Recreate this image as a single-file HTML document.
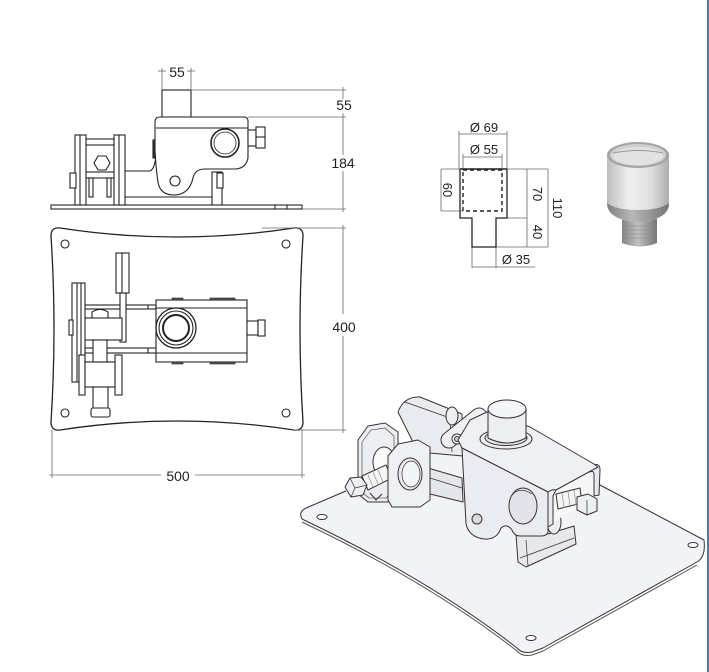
<!DOCTYPE html>
<html><head><meta charset="utf-8">
<style>
html,body{margin:0;padding:0;background:#fff;}
svg{display:block;}
text{font-family:"Liberation Sans",Arial,sans-serif;fill:#222;}
</style></head>
<body>
<svg width="709" height="672" viewBox="0 0 709 672" xmlns="http://www.w3.org/2000/svg">
<defs>
<linearGradient id="cyl" x1="0" x2="1" y1="0" y2="0">
<stop offset="0" stop-color="#bdbdbd"/><stop offset="0.35" stop-color="#efefef"/><stop offset="0.7" stop-color="#e0e0e0"/><stop offset="1" stop-color="#acacac"/>
</linearGradient>
<linearGradient id="cyl2" x1="0" x2="1" y1="0" y2="0">
<stop offset="0" stop-color="#808080"/><stop offset="0.4" stop-color="#b8b8b8"/><stop offset="1" stop-color="#747474"/>
</linearGradient>
<linearGradient id="stem" x1="0" x2="1" y1="0" y2="0">
<stop offset="0" stop-color="#858585"/><stop offset="0.45" stop-color="#c0c0c0"/><stop offset="1" stop-color="#757575"/>
</linearGradient>
</defs>
<rect width="709" height="672" fill="#fff"/>
<rect x="707" y="0" width="2" height="672" fill="#5078b0"/>

<!-- ===== SIDE VIEW ===== -->
<g stroke="#222" stroke-width="1.1" fill="#fff">
  <rect x="51" y="205" width="251" height="4"/>
  <line x1="275" y1="205" x2="275" y2="209"/><line x1="287" y1="205" x2="287" y2="209"/>
  <rect x="75" y="135" width="11" height="70"/>
  <line x1="80" y1="135" x2="80" y2="205"/>
  <rect x="114" y="135" width="11" height="70"/>
  <line x1="119" y1="135" x2="119" y2="205"/>
  <rect x="86" y="139" width="28" height="6"/>
  <rect x="86" y="172" width="28" height="6"/>
  <rect x="89" y="178" width="4" height="19"/><rect x="107" y="178" width="4" height="19"/>
  <polygon points="94,163 98,156 106,156 110,163 106,170 98,170"/>
  <rect x="70" y="173" width="6" height="15"/>
  <line x1="125" y1="197" x2="213" y2="197"/>
  <path d="M125,171 L150,171 Q156,168 156,150" fill="none"/>
  <rect x="153" y="140" width="5" height="18" fill="#333"/>
  <rect x="212" y="172" width="10" height="33"/>
  <rect x="217" y="173" width="6" height="15"/>
  <rect x="162" y="90" width="29" height="27"/>
  <path d="M155,122 Q155,117 160,117 L244,117 Q248,117 248,121 L248,158 Q246,168 236,169 L205,169 Q195,169 193,178 Q189,195 174,195 Q160,195 158,182 Q156,170 155,150 Z"/>
  <line x1="156" y1="128" x2="248" y2="128"/>
  <circle cx="225" cy="143" r="14" stroke-width="1.6"/>
  <circle cx="225" cy="143" r="11" stroke-width="0.8"/>
  <circle cx="175" cy="181" r="5"/>
  <rect x="248" y="130" width="8" height="16"/>
  <rect x="256" y="127" width="9" height="21"/>
  <line x1="256" y1="137" x2="265" y2="137"/>
</g>
<g stroke="#666" stroke-width="0.8" fill="none">
  <line x1="162" y1="68" x2="162" y2="90"/><line x1="191" y1="68" x2="191" y2="90"/>
  <line x1="158" y1="71" x2="166" y2="71"/><line x1="187" y1="71" x2="195" y2="71"/>
  <line x1="191" y1="90" x2="346" y2="90"/>
  <line x1="248" y1="117" x2="346" y2="117"/>
  <line x1="302" y1="209" x2="346" y2="209"/>
  <line x1="343" y1="87" x2="343" y2="99"/>
  <line x1="343" y1="113" x2="343" y2="155"/>
  <line x1="343" y1="171" x2="343" y2="212"/>
</g>
<text x="177" y="77" font-size="14" text-anchor="middle">55</text>
<text x="344" y="110" font-size="14" text-anchor="middle">55</text>
<text x="343" y="168" font-size="14" text-anchor="middle">184</text>

<!-- ===== TOP VIEW ===== -->
<path d="M60,228 Q177,246 294,228 Q303,227 303,236 Q297,329 303,422 Q303,431 294,430 Q177,412 60,430 Q51,431 51,422 Q57,329 51,236 Q51,227 60,228 Z" fill="#fff" stroke="#222" stroke-width="1.3"/>
<g fill="#fff" stroke="#222" stroke-width="1.1">
  <circle cx="65" cy="244" r="4"/><circle cx="286" cy="244" r="4"/>
  <circle cx="65" cy="413" r="4"/><circle cx="286" cy="413" r="4"/>
  <rect x="85" y="305" width="71" height="4"/>
  <rect x="85" y="348" width="71" height="5"/>
  <line x1="148" y1="305" x2="148" y2="309"/><line x1="148" y1="348" x2="148" y2="353"/>
  <rect x="156" y="300" width="91" height="62"/>
  <line x1="156" y1="308" x2="247" y2="308"/>
  <line x1="156" y1="353" x2="247" y2="353"/>
  <rect x="172" y="298" width="11" height="2" fill="#555" stroke-width="0.6"/>
  <rect x="210" y="298" width="25" height="2" fill="#555" stroke-width="0.6"/>
  <rect x="172" y="362" width="11" height="2" fill="#555" stroke-width="0.6"/>
  <rect x="210" y="362" width="25" height="2" fill="#555" stroke-width="0.6"/>
  <circle cx="176" cy="328" r="20" stroke-width="1.3"/>
  <circle cx="176" cy="328" r="17"/>
  <circle cx="176" cy="328" r="13" stroke-width="2"/>
  <rect x="247" y="321" width="11" height="14"/>
  <rect x="258" y="320" width="7" height="16"/>
  <rect x="116" y="253" width="13" height="40"/>
  <line x1="122" y1="253" x2="122" y2="293"/>
  <rect x="120" y="293" width="6" height="49"/>
  <rect x="82" y="318" width="40" height="22"/>
  <path d="M92,318 L92,312 Q100,307 108,312 L108,318 Z"/>
  <rect x="72" y="283" width="13" height="99"/>
  <line x1="77" y1="283" x2="77" y2="382"/><line x1="81" y1="283" x2="81" y2="382"/>
  <rect x="69" y="320" width="4" height="15"/>
  <rect x="93" y="340" width="14" height="22"/>
  <rect x="79" y="355" width="6" height="40"/>
  <rect x="115" y="355" width="7" height="40"/>
  <rect x="85" y="362" width="30" height="25"/>
  <rect x="93" y="387" width="15" height="22"/>
  <rect x="91" y="408" width="19" height="9" rx="2"/>
</g>
<g stroke="#666" stroke-width="0.8" fill="none">
  <line x1="262" y1="228" x2="346" y2="228"/>
  <line x1="292" y1="430" x2="346" y2="430"/>
  <line x1="343" y1="225" x2="343" y2="314"/>
  <line x1="343" y1="336" x2="343" y2="433"/>
  <line x1="52" y1="430" x2="52" y2="478"/>
  <line x1="302" y1="430" x2="302" y2="478"/>
  <line x1="49" y1="475" x2="161" y2="475"/>
  <line x1="195" y1="475" x2="305" y2="475"/>
</g>
<text x="344" y="332" font-size="14" text-anchor="middle">400</text>
<text x="178" y="481" font-size="14" text-anchor="middle">500</text>

<!-- ===== PIN DETAIL ===== -->
<g stroke="#666" stroke-width="0.8" fill="none">
  <line x1="459" y1="131" x2="459" y2="169"/><line x1="507" y1="131" x2="507" y2="169"/>
  <line x1="459" y1="134" x2="507" y2="134"/>
  <line x1="463" y1="154" x2="463" y2="169"/><line x1="502" y1="154" x2="502" y2="169"/>
  <line x1="463" y1="157" x2="502" y2="157"/>
  <line x1="441" y1="169" x2="460" y2="169"/><line x1="441" y1="211" x2="463" y2="211"/>
  <line x1="441" y1="169" x2="441" y2="211"/>
  <line x1="507" y1="169" x2="548" y2="169"/>
  <line x1="496" y1="218" x2="527" y2="218"/>
  <line x1="527" y1="169" x2="527" y2="247"/>
  <line x1="496" y1="247" x2="548" y2="247"/>
  <line x1="548" y1="169" x2="548" y2="247"/>
  <line x1="472" y1="247" x2="472" y2="268"/><line x1="496" y1="247" x2="496" y2="268"/>
  <line x1="472" y1="267" x2="535" y2="267"/>
</g>
<g stroke="#222" fill="none">
  <path d="M460,169 L507,169" stroke-width="1.6"/>
  <path d="M460,169 L460,218 L472,218 L472,247 L496,247 L496,218 L507,218 L507,169" stroke-width="1.3"/>
  <rect x="463" y="170" width="39" height="41" stroke-width="1.4" stroke-dasharray="4,3"/>
</g>
<text x="484" y="132" font-size="13" text-anchor="middle">Ø 69</text>
<text x="484" y="154" font-size="13" text-anchor="middle">Ø 55</text>
<text x="516" y="264" font-size="13" text-anchor="middle">Ø 35</text>
<text font-size="13" text-anchor="middle" transform="translate(443,190) rotate(90)">60</text>
<text font-size="13" text-anchor="middle" transform="translate(533,194) rotate(90)">70</text>
<text font-size="13" text-anchor="middle" transform="translate(553,208) rotate(90)">110</text>
<text font-size="13" text-anchor="middle" transform="translate(533,232) rotate(90)">40</text>

<!-- ===== 3D PIN ===== -->
<g>
  <path d="M622,212 L622,243 Q640,250 657,243 L657,212 Z" fill="url(#stem)"/>
  <g stroke="#8a8a8a" stroke-width="0.6">
    <line x1="622" y1="226" x2="657" y2="226"/><line x1="622" y1="230" x2="657" y2="230"/>
    <line x1="622" y1="234" x2="657" y2="234"/><line x1="622" y1="238" x2="657" y2="238"/>
  </g>
  <path d="M607,155 L607,205 Q608,220 638,222 Q668,220 669,205 L669,155 Z" fill="url(#cyl)"/>
  <path d="M607,203 Q608,220 638,222 Q668,220 669,203 Q660,210 638,210 Q616,210 607,203 Z" fill="url(#cyl2)"/>
  <ellipse cx="638" cy="155" rx="31" ry="13" fill="#a4a4a4"/>
  <ellipse cx="638" cy="155" rx="28" ry="11" fill="#d0d0d0"/>
  <ellipse cx="638" cy="156" rx="25" ry="9" fill="#e2e2e2"/>
  <path d="M613,153 Q638,148 663,153" stroke="#999" stroke-width="1" fill="none"/>
</g>

<!-- ===== ISO VIEW ===== -->
<g stroke="#333" stroke-width="1" stroke-linejoin="round">
  <path d="M306,508 Q298,512 302,519 Q430,580 517,648 Q522,654 532,652 L543,648 L697,562 Q706,557 704,540 L600,482 L470,428 L345,490 Z" fill="#f2f3f6" stroke="none"/>
  <path d="M302,519 Q430,580 517,648 Q522,654 532,652 L543,648 L697,562" fill="none"/>
  <path d="M302,522 Q430,583 517,651 Q522,657 532,655 L543,651 L697,565" fill="none" stroke="#555"/>
  <path d="M697,562 Q706,557 704,540 L598,484" fill="none"/>
  <path d="M302,519 Q298,512 306,508 L346,491" fill="none"/>
  <ellipse cx="322" cy="517" rx="5" ry="2.5" fill="#fff"/>
  <ellipse cx="693" cy="545" rx="5" ry="2.5" fill="#fff"/>
  <ellipse cx="531" cy="638" rx="5" ry="2.5" fill="#fff"/>

  <!-- back upper block -->
  <path d="M398,412 Q404,396 420,397 L462,414 L463,456 L418,452 Z" fill="#e9ebf0"/>
  <path d="M405,402 L450,418 L452,452" fill="none" stroke-width="0.8"/>
  <ellipse cx="452" cy="416" rx="6" ry="9" fill="#eceef2"/>
  <!-- left hex plate -->
  <polygon points="358,440 368,426 385,423 398,432 398,492 388,502 368,502 358,494" fill="#eceef2"/>
  <polygon points="362,442 371,430 385,428 394,436 394,490 386,498 369,498 362,492" fill="none" stroke-width="0.6"/>
  <ellipse cx="384" cy="462" rx="11" ry="15" fill="#fafafa"/>
  <path d="M362,476 L386,465 L392,478 L368,490 Z" fill="#f6f6f6"/>
  <g stroke="#999" stroke-width="0.8"><line x1="368" y1="475" x2="373" y2="487"/><line x1="373" y1="472" x2="378" y2="484"/><line x1="378" y1="470" x2="383" y2="482"/></g>
  <polygon points="345,487 350,478 361,477 367,485 363,495 351,497" fill="#eceef2"/>
  <line x1="350" y1="478" x2="355" y2="488" stroke-width="0.7"/><line x1="355" y1="488" x2="351" y2="497" stroke-width="0.7"/><line x1="355" y1="488" x2="367" y2="485" stroke-width="0.7"/>
  <path d="M370,493 L376,500 L382,494" fill="none"/>
  <!-- middle block -->
  <polygon points="428,468 462,478 463,502 430,494" fill="#e4e6ec"/>
  <line x1="430" y1="478" x2="462" y2="488" stroke-width="0.7"/>
  <!-- front plate -->
  <polygon points="388,456 398,444 418,440 430,447 430,500 420,507 392,507 388,500" fill="#eef0f4"/>
  <ellipse cx="410" cy="474" rx="12" ry="16" fill="#e8eaee"/>
  <ellipse cx="411" cy="474" rx="9" ry="13" fill="#f4f5f7" stroke-width="0.7"/>
  <!-- link -->
  <path d="M449,440 L479,416" stroke="#333" stroke-width="17" stroke-linecap="round" fill="none"/>
  <path d="M449,440 L479,416" stroke="#eef0f4" stroke-width="15" stroke-linecap="round" fill="none"/>
  <circle cx="457" cy="439" r="5" fill="#fff"/>
  <circle cx="457" cy="439" r="2.5" fill="#ccc"/>
  <!-- lower bracket -->
  <polygon points="516,534 518,562 526,567 576,544 574,526 548,534" fill="#e6e8ed"/>
  <line x1="520" y1="558" x2="574" y2="538" stroke-width="0.7"/>
  <line x1="526" y1="540" x2="528" y2="566" stroke-width="0.7"/>
  <ellipse cx="554" cy="522" rx="7" ry="12" fill="#eceef2"/>
  <!-- U end: inside -->
  <polygon points="550,492 594,470 598,497 553,522" fill="#f7f7f9" stroke="none"/>
  <!-- threads + bolt -->
  <path d="M556,494 L580,488 L582,503 L558,509 Z" fill="#f4f4f4"/>
  <g stroke="#999" stroke-width="0.8"><line x1="562" y1="493" x2="564" y2="508"/><line x1="568" y1="491" x2="570" y2="506"/><line x1="574" y1="490" x2="576" y2="505"/></g>
  <polygon points="577,497 588,494 597,499 597,511 587,515 577,510" fill="#eceef2"/>
  <line x1="587" y1="500" x2="587" y2="515" stroke-width="0.7"/>
  <!-- U outer wall -->
  <path d="M590,472 Q594,470 594,475 L594,496 L599,495 L600,470 Q600,463 594,465 Z" fill="#e6e8ed"/>
  <!-- housing top face -->
  <polygon points="458,440 470,420 487,412 530,427 594,464 598,467 556,490 548,492 462,448" fill="#eef0f4"/>
  <line x1="466" y1="452" x2="548" y2="496" stroke-width="0.6" stroke="#777"/>
  <!-- front lip of U -->
  <path d="M548,492 Q552,489 556,490 L553,496 L553,524 L548,527 Z" fill="#e8eaef"/>
  <!-- housing front face -->
  <path d="M462,448 L548,492 L548,532 Q547,536 541,536 L520,536 Q514,536 512,530 Q507,523 501,528 Q497,540 484,539 Q469,537 466,524 Z" fill="#eaecf1"/>
  <ellipse cx="523" cy="506" rx="14" ry="18" fill="#e2e4ea"/>
  <path d="M512,495 Q520,486 532,494" fill="none" stroke-width="0.7"/>
  <circle cx="477" cy="519" r="5" fill="#d8dae0"/>
  <!-- pin collar -->
  <ellipse cx="506" cy="439" rx="26" ry="10" fill="#eceef2"/>
  <ellipse cx="506" cy="438" rx="21" ry="7.5" fill="#e2e4ea"/>
  <!-- pin -->
  <path d="M488,409 L488,438 Q507,448 526,438 L526,409 Z" fill="#eceef2"/>
  <ellipse cx="507" cy="409" rx="19" ry="9" fill="#f4f5f8"/>
</g>
</svg>
</body></html>
